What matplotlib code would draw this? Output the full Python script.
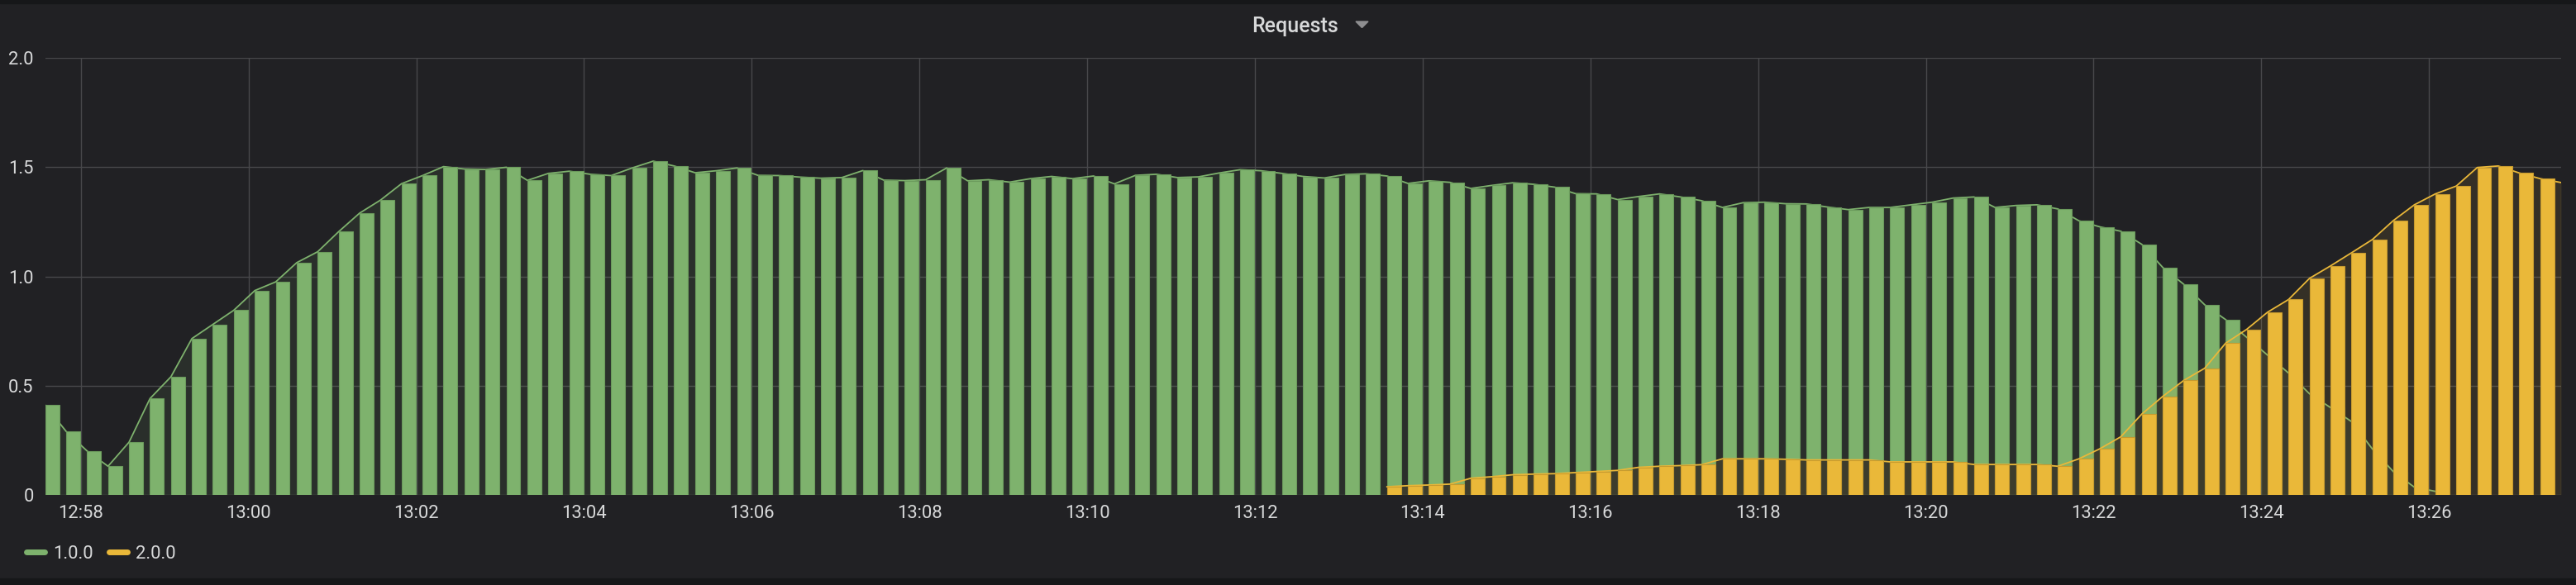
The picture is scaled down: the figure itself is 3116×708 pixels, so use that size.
import numpy as np
import pandas as pd
import matplotlib
matplotlib.use("Agg")
import matplotlib.pyplot as plt
import matplotlib.dates as mdates
from matplotlib.lines import Line2D
from matplotlib.patches import Polygon

# Serie 1.0.0 (verde), um ponto a cada 15 s a partir de 12:57:34.5
v1 = [0.41, 0.29, 0.20, 0.13, 0.24, 0.44, 0.54, 0.715, 0.78, 0.845,
      0.935, 0.975, 1.063, 1.113, 1.205, 1.29, 1.35, 1.425, 1.462, 1.503,
      1.492, 1.49, 1.50, 1.44, 1.472, 1.482, 1.468, 1.462, 1.497, 1.528,
      1.506, 1.475, 1.484, 1.497, 1.463, 1.462, 1.455, 1.45, 1.453, 1.485,
      1.441, 1.439, 1.443, 1.497, 1.438, 1.443, 1.432, 1.448, 1.458, 1.448,
      1.46, 1.424, 1.463, 1.468, 1.453, 1.456, 1.474, 1.489, 1.484, 1.472,
      1.458, 1.451, 1.467, 1.47, 1.46, 1.426, 1.438, 1.431, 1.403, 1.417,
      1.429, 1.422, 1.409, 1.379, 1.378, 1.352, 1.366, 1.378, 1.364, 1.347,
      1.316, 1.338, 1.34, 1.333, 1.332, 1.318, 1.306, 1.316, 1.316, 1.328,
      1.34, 1.359, 1.364, 1.316, 1.325, 1.328, 1.309, 1.255, 1.227, 1.207,
      1.147, 1.041, 0.964, 0.87, 0.802, 0.721, 0.639, 0.557, 0.462, 0.399,
      0.335, 0.209, 0.105, 0.034, 0.015]

# Serie 2.0.0 (laranja), comeca no ponto 64
v2_inicio = 64
v2 = [0.036, 0.041, 0.044, 0.048, 0.075, 0.082, 0.091, 0.094, 0.096, 0.101,
      0.106, 0.111, 0.125, 0.13, 0.133, 0.137, 0.164, 0.164, 0.164, 0.162,
      0.159, 0.159, 0.159, 0.159, 0.15, 0.15, 0.15,
      0.15, 0.138, 0.138, 0.138, 0.138, 0.13, 0.164, 0.21, 0.265, 0.369,
      0.45, 0.523, 0.579, 0.694, 0.757, 0.836, 0.894, 0.991, 1.048, 1.108,
      1.169, 1.256, 1.328, 1.378, 1.414, 1.499, 1.506, 1.474, 1.448, 1.43]

nomes = ["1.0.0", "2.0.0"]
cores = ["#7EB26D", "#EAB839"]
bordas = ["#6b9a5c", "#c79b2f"]
y_ticks = [0, 0.5, 1.0, 1.5, 2.0]
y_labels = ["0", "0.5", "1.0", "1.5", "2.0"]

inicio = pd.Timestamp("2020-01-01 12:57:34.5")
passo = pd.Timedelta(seconds=15)
t1 = inicio + passo * np.arange(len(v1))
t2 = inicio + passo * (v2_inicio + np.arange(len(v2)))
largura = 10 / 86400.0

fundo = "#212124"
texto = "#d8d9da"
plt.rcParams['font.family'] = ['Roboto', 'DejaVu Sans']

fig = plt.figure(figsize=(31.16, 7.08), dpi=100, facecolor=fundo)
ax = fig.add_axes([54.6 / 3116, 1 - 598.6 / 708, (3098 - 54.6) / 3116, (598.6 - 70.4) / 708])
ax.set_facecolor(fundo)

series = [(t1, v1), (t2, v2)]
for k, (t, v) in enumerate(series):
    z = 2 + k * 4
    ax.fill_between(t, v, 0, color=cores[k], alpha=0.1, linewidth=0, zorder=z)
    ax.plot(t, v, color=cores[k], lw=1.3, zorder=z + 1)
    ax.bar(t, v, width=largura, align='edge', color=cores[k],
           edgecolor=bordas[k], linewidth=0.8, zorder=z + 2)

ax.set_xlim(inicio, inicio + pd.Timedelta(minutes=30))
ax.set_ylim(0, 2.0)
ax.set_yticks(y_ticks)
ax.set_yticklabels(y_labels)
ax.xaxis.set_major_locator(mdates.MinuteLocator(byminute=range(0, 60, 2)))
ax.xaxis.set_major_formatter(mdates.DateFormatter('%H:%M'))

ax.grid(True, color="#48484b", linewidth=1.0)
ax.set_axisbelow(True)
for s in ax.spines.values():
    s.set_visible(False)
ax.tick_params(axis='both', length=0, colors=texto, labelsize=15.8)
ax.tick_params(axis='y', pad=10)
ax.tick_params(axis='x', pad=9)

# titulo do painel
fig.text(1567 / 3116, 1 - 32 / 708, "Requests", ha='center', va='center',
         color=texto, fontsize=18, fontweight='medium')
tri = Polygon([[1640 / 3116, 1 - 26 / 708], [1655 / 3116, 1 - 26 / 708],
               [1647.5 / 3116, 1 - 33.5 / 708]], closed=True,
              transform=fig.transFigure, color="#8e8e90")
fig.patches.append(tri)

# faixas escuras no topo e embaixo
fig.patches.append(plt.Rectangle((0, 1 - 4 / 708), 1, 4 / 708, transform=fig.transFigure, color="#161719"))
fig.patches.append(plt.Rectangle((0, 0), 1, 8 / 708, transform=fig.transFigure, color="#161719"))

handles = [Line2D([0], [0], color=c, lw=5, solid_capstyle='round') for c in cores]
leg = fig.legend(handles, nomes, loc='center left', bbox_to_anchor=(32 / 3116, 38 / 708),
                 ncol=2, frameon=False, fontsize=15.8, handlelength=1.0,
                 handletextpad=0.45, columnspacing=0.9, borderpad=0, borderaxespad=0)
for t in leg.get_texts():
    t.set_color(texto)

fig.savefig("out.png", dpi=100, facecolor=fundo)
